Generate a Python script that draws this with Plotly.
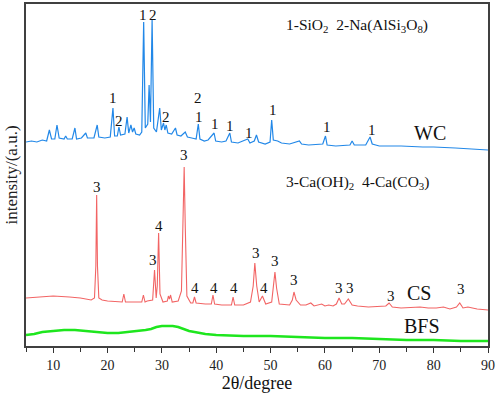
import plotly.graph_objects as go

# ---- data (2theta in degrees, intensity in arbitrary units) ----
wc_2theta = [5, 6, 7, 8, 8.8, 9.3, 9.7, 10.3, 10.7, 11.1, 12, 12.3, 12.6, 13.5, 14.0, 14.3, 15.2,
             16.0, 16.3, 17.5, 18.1, 18.4, 19.5, 20.5, 21.0, 21.3, 21.8, 22.1, 22.4, 23.2, 23.6,
             23.9, 24.3, 24.6, 24.9, 25.2, 25.9, 26.3, 26.65, 26.95, 27.4, 27.65, 27.9, 28.2,
             28.5, 29.0, 29.6, 29.9, 30.3, 30.55, 30.8, 31.1, 31.8, 32.5, 32.8, 33.5, 34.3, 34.7,
             35.5, 36.3, 36.7, 37.0, 37.8, 38.5, 39.6, 39.9, 41, 41.8, 42.5, 42.8, 44, 45.8, 46.2,
             47.0, 47.4, 47.8, 49, 49.9, 50.2, 50.5, 51.3, 52, 53.5, 55.3, 55.7, 57, 59.6, 60.1,
             60.4, 62, 64.6, 65.0, 65.4, 67.5, 68.3, 68.7, 70, 74, 78, 80, 84, 87, 90]
wc_int = [204, 205, 204, 206, 205, 216, 207, 207, 221, 208, 207, 210, 207, 207, 218, 207, 208,
          213, 208, 208, 221, 209, 208, 209, 238, 210, 210, 219, 211, 212, 229,
          213, 221, 214, 218, 212, 211, 214, 324, 218, 222, 261, 224, 326,
          218, 214, 238, 216, 223, 216, 221, 213, 212, 218, 211, 210, 214, 209,
          208, 207, 222, 207, 205, 206, 213, 205, 204, 205, 213, 204, 203, 207, 203,
          205, 211, 204, 202, 204, 226, 206, 205, 203, 202, 205, 202, 201, 202, 210,
          201, 200, 201, 205, 201, 201, 209, 202, 200, 200, 199, 199, 198, 197, 196]

cs_2theta = [5, 7, 10, 13, 15, 17, 17.6, 17.85, 18.0, 18.15, 18.4, 19, 20, 22.7, 23.0, 23.3, 25,
             26.3, 26.6, 26.9, 27.3, 28.3, 28.65, 28.95, 29.15, 29.4, 29.65, 30.2, 31.0, 31.2,
             31.4, 31.6, 31.9, 33.0, 33.6, 33.9, 34.1, 34.3, 34.6, 35.3, 35.7, 36.0, 36.3,
             38.0, 39.1, 39.4, 39.7, 41, 42.8, 43.1, 43.4, 45, 46.3, 46.8, 47.1, 47.45, 47.9,
             48.5, 49.1, 50.2, 50.55, 50.8, 51.1, 51.6, 53.5, 54.0, 54.3, 54.7, 55.5, 56.5,
             57.4, 58, 59.4, 60, 60.7, 61.5, 62.1, 62.6, 63.1, 63.6, 64.3, 65.0, 66, 68,
             71.2, 71.8, 72.4, 74, 77.5, 79, 80.5, 81.8, 83, 84.2, 84.8, 85.4, 86.3, 88, 90]
cs_int = [48, 49, 50, 49, 48, 46, 48, 80, 151, 80, 48, 46, 45, 44, 52, 44, 44,
          44, 51, 44, 45, 46, 76, 48, 60, 113, 52, 44, 45, 50,
          47, 51, 44, 45, 55, 120, 179, 120, 50, 43, 43, 49, 43,
          42, 42, 51, 42, 41, 41, 49, 41, 41, 44, 60, 83, 60, 44,
          50, 42, 44, 60, 74, 58, 42, 41, 46, 54, 46, 41, 41,
          43, 40, 42, 40, 41, 40, 42, 48, 42, 42, 47, 41, 40, 39,
          40, 43, 39, 38, 39, 38, 38, 39, 37, 39, 43, 38, 39, 37, 36]

bfs_2theta = [5, 6.5, 8, 10, 12, 14, 16, 18, 20, 22, 24, 26, 27, 28, 29, 30, 31, 32, 33, 34, 35,
              36, 38, 40, 45, 50, 55, 60, 65, 70, 75, 80, 85, 90]
bfs_int = [11, 12, 14, 15, 16, 16, 15, 14, 13, 13, 14, 15, 16, 17, 19, 20, 20, 20, 19, 17, 15,
           14, 12, 11, 10, 10, 9, 8, 8, 7, 6, 6, 5, 5]

# peak labels: text, 2theta, intensity
wc_label_text = ["1", "2", "1", "2", "2", "2", "1", "1", "1", "1", "1", "1", "1"]
wc_label_x = [26.55, 28.35, 21.0, 22.2, 30.7, 36.6, 36.75, 39.7, 42.6, 46.1, 50.5, 60.4, 68.7]
wc_label_y = [331, 331, 248, 225, 229, 248, 229, 222, 220, 213, 236, 219, 216]

cs_label_text = ["3", "3", "3", "4", "4", "4", "4", "3", "4", "3", "3", "3", "3", "3", "3"]
cs_label_x = [18.0, 34.0, 28.35, 29.45, 36.1, 39.5, 43.2, 47.3, 48.7, 50.85, 54.35, 62.65,
              64.7, 72.1, 85.0]
cs_label_y = [159, 191, 86, 120, 58, 58, 58, 93, 58, 85, 66, 58, 58, 50, 57]

sample_names = ["WC", "CS", "BFS"]
sample_label_x = [79.4, 77.3, 77.8]
sample_label_y = [213, 53, 20]

phase_keys = ["1-SiO<sub>2</sub>&nbsp;&nbsp;2-Na(AlSi<sub>3</sub>O<sub>8</sub>)",
              "3-Ca(OH)<sub>2</sub>&nbsp;&nbsp;4-Ca(CO<sub>3</sub>)"]
phase_key_x = [65.9, 65.9]
phase_key_y = [321, 164]

x_tick_vals = [10, 20, 30, 40, 50, 60, 70, 80, 90]

FONT = "Liberation Serif, Times New Roman, serif"

fig = go.Figure()
fig.add_trace(go.Scatter(x=bfs_2theta, y=bfs_int, mode="lines",
                         line=dict(color="#1ee61e", width=2.6), showlegend=False))
fig.add_trace(go.Scatter(x=cs_2theta, y=cs_int, mode="lines",
                         line=dict(color="#f26464", width=1.1), showlegend=False))
fig.add_trace(go.Scatter(x=wc_2theta, y=wc_int, mode="lines",
                         line=dict(color="#2288e8", width=1.2), showlegend=False))

anns = []
for t, x, y in zip(wc_label_text + cs_label_text, wc_label_x + cs_label_x, wc_label_y + cs_label_y):
    anns.append(dict(x=x, y=y, text=t, showarrow=False, xref="x", yref="y",
                     font=dict(family=FONT, size=15, color="#111")))
for t, x, y in zip(sample_names, sample_label_x, sample_label_y):
    anns.append(dict(x=x, y=y, text=t, showarrow=False, xref="x", yref="y",
                     font=dict(family=FONT, size=20, color="#111")))
for t, x, y in zip(phase_keys, phase_key_x, phase_key_y):
    anns.append(dict(x=x, y=y, text=t, showarrow=False, xref="x", yref="y",
                     font=dict(family=FONT, size=15.5, color="#111")))

fig.update_layout(
    width=498, height=393,
    margin=dict(l=26, r=10, t=4, b=47),
    paper_bgcolor="white", plot_bgcolor="white",
    annotations=anns,
    font=dict(family=FONT, color="#222"),
    xaxis=dict(range=[5, 90], tickvals=x_tick_vals, ticks="outside", ticklen=5,
               tickwidth=1.2, tickcolor="#333", showline=True, linecolor="#404040",
               linewidth=1.5, mirror=True, showgrid=False, zeroline=False, automargin=False,
               tickfont=dict(family=FONT, size=14, color="#222"),
               minor=dict(dtick=5, tick0=5, ticks="outside", ticklen=4, tickcolor="#333"),
               title=dict(text="2θ/degree", font=dict(family=FONT, size=18, color="#111"),
                          standoff=0)),
    yaxis=dict(range=[0, 342], showticklabels=False, ticks="", showline=True,
               linecolor="#404040", linewidth=1.5, mirror=True, showgrid=False,
               zeroline=False, automargin=False,
               title=dict(text="intensity/(a.u.)", font=dict(family=FONT, size=17, color="#222"),
                          standoff=2)),
)

fig.write_html("out.html", config={"displayModeBar": False},
               post_script="document.body.style.margin='0';document.body.style.padding='0';")
